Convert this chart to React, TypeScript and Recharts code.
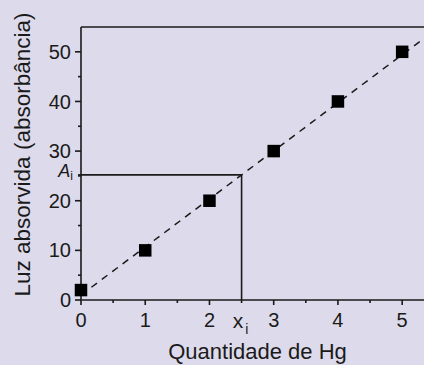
import React from 'react';
import { ComposedChart, Scatter, XAxis, YAxis, ReferenceLine } from 'recharts';

// ---- data ----
const quantities = [0, 1, 2, 3, 4, 5];
const absorbances = [2, 10, 20, 30, 40, 50];
const xTicks = [0, 0.5, 1, 1.5, 2, 2.5, 3, 3.5, 4, 4.5, 5];
const yTicks = [0, 5, 10, 15, 20, 25, 25.2, 30, 35, 40, 45, 50];
const X_MAX = 5.34;
const Y_MAX = 55;
const XI = 2.5;
const AI = 25.2;
const fitLine = [
  { x: 0, y: 1.0 },
  { x: 5.34, y: 52.7 },
];

const points = quantities.map((x, i) => ({ x, y: absorbances[i] }));

// ---- style ----
const BG = '#dddaeb';
const INK = '#1a1a1a';
const FONT = '"Liberation Sans", Arial, Helvetica, sans-serif';
const X_TICK_SIZE = 5;
const X_TICK_MARGIN = 8;
const Y_TICK_SIZE = 6;
const Y_TICK_MARGIN = 4;

const XTick = (props: any) => {
  const { x, y, payload } = props;
  const v = payload.value;
  const axisY = y - X_TICK_SIZE - X_TICK_MARGIN;
  const major = Number.isInteger(v);
  const len = major ? 5 : 3;
  return (
    <g>
      <line x1={x} x2={x} y1={axisY} y2={axisY + len} stroke={INK} strokeWidth={1.6} />
      {major && (
        <text x={x} y={y} dy="0.71em" textAnchor="middle" fontSize={20} fill={INK} fontFamily={FONT}>
          {v}
        </text>
      )}
      {v === XI && (
        <text x={x - 1} y={y} dy="0.71em" textAnchor="middle" fontSize={21} fill={INK} fontFamily={FONT}>
          x
          <tspan fontSize={14} dx={2} dy={6}>i</tspan>
        </text>
      )}
    </g>
  );
};

const YTick = (props: any) => {
  const { x, y, payload } = props;
  const v = payload.value;
  const axisX = x + Y_TICK_SIZE + Y_TICK_MARGIN;
  const major = v % 10 === 0;
  const len = major ? 6 : 3;
  return (
    <g>
      <line x1={axisX - len} x2={axisX} y1={y} y2={y} stroke={INK} strokeWidth={1.6} />
      {major && (
        <text x={x} y={y} dy="0.355em" textAnchor="end" fontSize={20} fill={INK} fontFamily={FONT}>
          {v}
        </text>
      )}
      {v === AI && (
        <text x={x + 2} y={y + 2.5} textAnchor="end" fill={INK} fontFamily={FONT}>
          <tspan fontSize={18} fontStyle="italic">A</tspan>
          <tspan fontSize={12} dy={3}>i</tspan>
        </text>
      )}
    </g>
  );
};

const Square = (props: any) => {
  const { cx, cy } = props;
  const s = 12.5;
  return <rect x={cx - s / 2} y={cy - s / 2} width={s} height={s} fill="#000" />;
};

export default function App() {
  return (
    <div style={{ position: 'absolute', left: 0, top: 0, width: 424, height: 365, background: BG }}>
      <ComposedChart width={424} height={365} margin={{ top: 27, right: 0, bottom: 0, left: 0 }}>
        <XAxis
          type="number"
          dataKey="x"
          domain={[0, X_MAX]}
          ticks={xTicks}
          interval={0}
          height={65}
          tickSize={X_TICK_SIZE}
          tickMargin={X_TICK_MARGIN}
          tickLine={false}
          tick={<XTick />}
          axisLine={{ stroke: INK, strokeWidth: 1.6 }}
          label={{
            content: (p: any) => {
              const vb = p.viewBox;
              return (
                <text x={vb.x + vb.width / 2 + 5} y={vb.y + 59} textAnchor="middle" fontSize={22} fill={INK} fontFamily={FONT}>
                  Quantidade de Hg
                </text>
              );
            },
          }}
        />
        <YAxis
          type="number"
          dataKey="y"
          domain={[0, Y_MAX]}
          ticks={yTicks}
          interval={0}
          width={81}
          tickSize={Y_TICK_SIZE}
          tickMargin={Y_TICK_MARGIN}
          tickLine={false}
          tick={<YTick />}
          axisLine={{ stroke: INK, strokeWidth: 1.6 }}
          label={{
            content: (p: any) => {
              const vb = p.viewBox;
              const cx = vb.x + 30;
              const cy = vb.y + vb.height / 2 - 9;
              return (
                <text x={cx} y={cy} transform={`rotate(-90, ${cx}, ${cy})`} textAnchor="middle" fontSize={22.5} fill={INK} fontFamily={FONT}>
                  Luz absorvida (absorbância)
                </text>
              );
            },
          }}
        />
        <ReferenceLine y={Y_MAX} stroke={INK} strokeWidth={1.6} ifOverflow="visible" />
        <ReferenceLine segment={[{ x: 0, y: AI }, { x: XI, y: AI }]} stroke={INK} strokeWidth={1.6} />
        <ReferenceLine segment={[{ x: XI, y: 0 }, { x: XI, y: AI }]} stroke={INK} strokeWidth={1.6} />
        <ReferenceLine segment={fitLine} stroke={INK} strokeWidth={1.5} strokeDasharray="7 6" />
        <Scatter data={points} shape={<Square />} isAnimationActive={false} />
      </ComposedChart>
    </div>
  );
}
